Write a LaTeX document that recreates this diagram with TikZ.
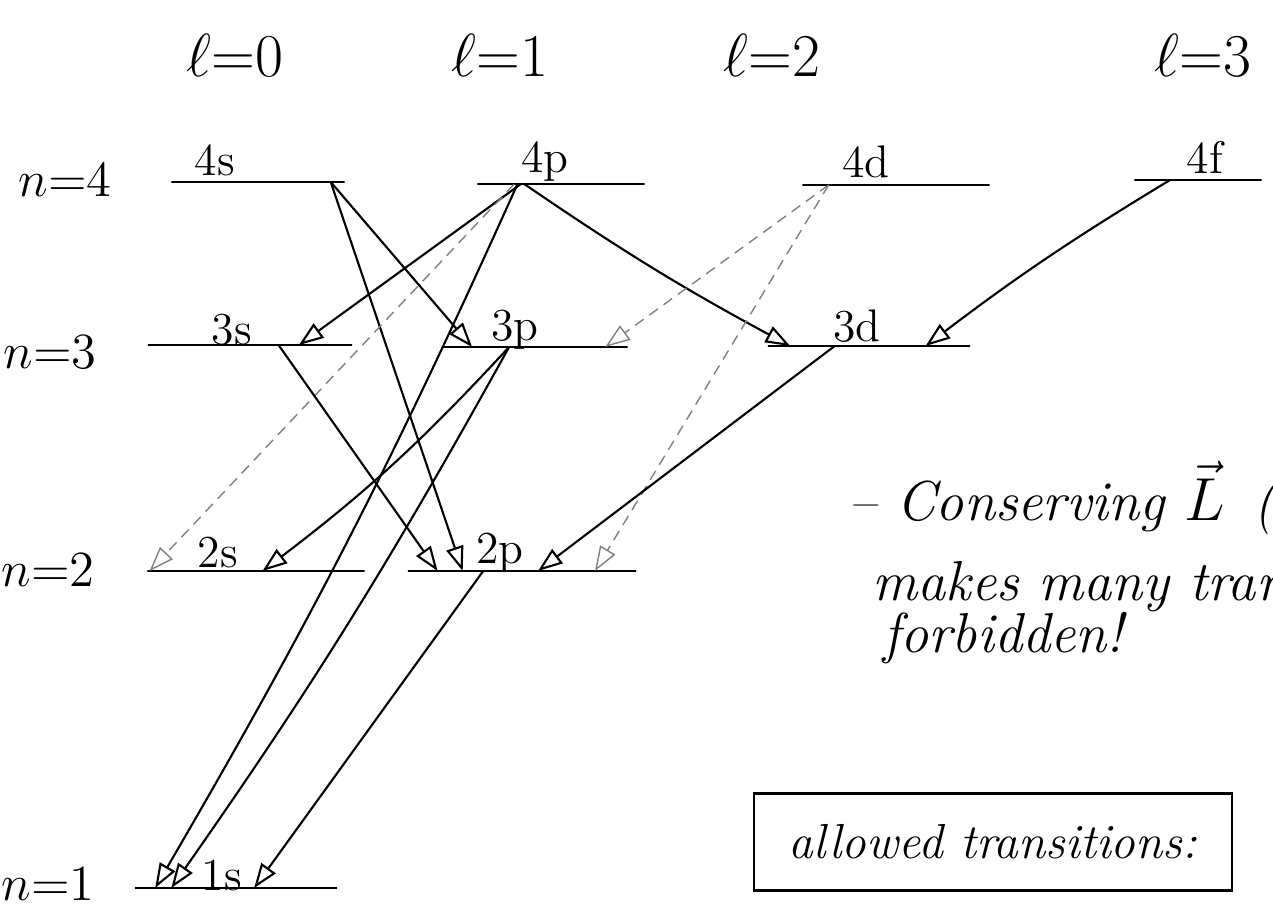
\documentclass[tikz,border=0pt]{standalone}
\usepackage{amsmath,amssymb}
\usepackage{tikz}
\usetikzlibrary{arrows.meta,calc}

\begin{document}
\begin{tikzpicture}[
    x=0.01cm,y=-0.01cm,
    >={Triangle[open,length=7pt,width=5pt]},
    orbital/.style={draw,semithick,inner sep=0pt,outer sep=0pt,minimum height=0pt,minimum width=#1},
    lbl/.style={font=\fontsize{13}{15}\selectfont},
    nlbl/.style={font=\fontsize{14}{16}\selectfont,inner sep=0pt},
    ellbl/.style={font=\fontsize{19}{22}\selectfont,inner sep=0pt},
    note/.style={font=\fontsize{16}{19}\selectfont\itshape,anchor=base west,inner sep=0pt},
    trans/.style={->,semithick},
    faint/.style={->,thin,gray,densely dashed}
  ]
  \useasboundingbox (0,0) rectangle (1273,909);
  %% angular momentum columns
  \node[ellbl] (l0) at (235,55) {$\ell{=}0$};
  \node[ellbl] (l1) at (500,55) {$\ell{=}1$};
  \node[ellbl] (l2) at (772,55) {$\ell{=}2$};
  \node[ellbl] (l3) at (1203,55) {$\ell{=}3$};
  %% principal quantum number rows
  \node[nlbl] (n4) at (65,180) {$n{=}4$};
  \node[nlbl] (n3) at (50,352) {$n{=}3$};
  \node[nlbl] (n2) at (48,570) {$n{=}2$};
  \node[nlbl] (n1) at (48,884) {$n{=}1$};
  %% energy levels
  \node[orbital=1.73cm] (o4s) at (258,182) {};
  \node[orbital=1.67cm] (o4p) at (561,184) {};
  \node[orbital=1.87cm] (o4d) at (896,185) {};
  \node[orbital=1.27cm] (o4f) at (1198,180) {};
  \node[orbital=2.04cm] (o3s) at (250,345) {};
  \node[orbital=1.85cm] (o3p) at (535,347) {};
  \node[orbital=2.02cm] (o3d) at (869,346) {};
  \node[orbital=2.17cm] (o2s) at (256,571) {};
  \node[orbital=2.28cm] (o2p) at (522,571) {};
  \node[orbital=2.02cm] (o1s) at (236,888) {};
  %% level names
  \node[lbl] at (215,160) {4s};
  \node[lbl] at (545,162) {4p};
  \node[lbl] at (866,162) {4d};
  \node[lbl] at (1205,157) {4f};
  \node[lbl] at (232,330) {3s};
  \node[lbl] at (515,330) {3p};
  \node[lbl] at (857,326) {3d};
  \node[lbl] at (218,553) {2s};
  \node[lbl] at (500,553) {2p};
  \node[lbl] at (222,876) {1s};
  %% transitions from n=4
  \draw[trans] ($(o4s.west)!0.92!(o4s.east)$) -- ($(o3p.west)!0.16!(o3p.east)$);
  \draw[trans] ($(o4s.west)!0.92!(o4s.east)$) -- ($(o2p.west)!0.24!(o2p.east)$);
  \draw[trans] ($(o4p.west)!0.26!(o4p.east)$) -- ($(o3s.west)!0.74!(o3s.east)$);
  \draw[trans] ($(o4p.west)!0.28!(o4p.east)$) to[bend right=3] ($(o3d.west)!0.11!(o3d.east)$);
  \draw[trans] ($(o4p.west)!0.24!(o4p.east)$) to[bend left=3] ($(o1s.west)!0.10!(o1s.east)$);
  \draw[faint] ($(o4p.west)!0.22!(o4p.east)$) -- ($(o2s.west)!0.01!(o2s.east)$);
  \draw[faint] ($(o4d.west)!0.14!(o4d.east)$) -- ($(o3p.west)!0.88!(o3p.east)$);
  \draw[faint] ($(o4d.west)!0.14!(o4d.east)$) -- ($(o2p.west)!0.82!(o2p.east)$);
  \draw[trans] ($(o4f.west)!0.28!(o4f.east)$) to[bend right=3] ($(o3d.west)!0.78!(o3d.east)$);
  %% transitions from n=3
  \draw[trans] ($(o3s.west)!0.64!(o3s.east)$) -- ($(o2p.west)!0.13!(o2p.east)$);
  \draw[trans] ($(o3p.west)!0.36!(o3p.east)$) to[bend left=5] ($(o2s.west)!0.53!(o2s.east)$);
  \draw[trans] ($(o3p.west)!0.36!(o3p.east)$) to[bend left=3] ($(o1s.west)!0.18!(o1s.east)$);
  \draw[trans] ($(o3d.west)!0.33!(o3d.east)$) -- ($(o2p.west)!0.57!(o2p.east)$);
  %% transitions from n=2
  \draw[trans] ($(o2p.west)!0.33!(o2p.east)$) -- ($(o1s.west)!0.59!(o1s.east)$);
  %% remarks
  \node[note] (cons) at (848,520) {-- Conserving $\vec{L}$\, (a};
  \node[note] (many) at (872,600) {makes many tran};
  \node[note] (forb) at (883,652) {forbidden!};
  \node[draw,semithick,minimum width=4.77cm,minimum height=0.97cm,
        font=\fontsize{14}{17}\selectfont\itshape] (allowed) at (993,842) {allowed transitions:};
\end{tikzpicture}
\end{document}
